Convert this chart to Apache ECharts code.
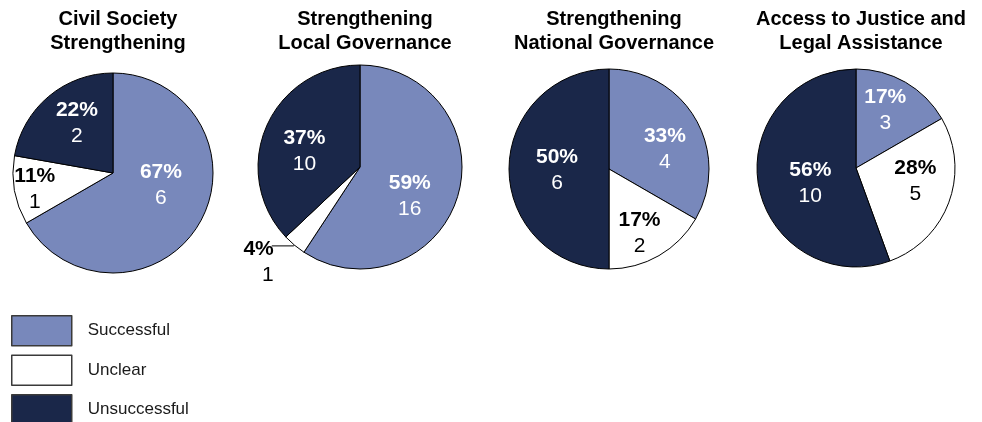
<!DOCTYPE html>
<html>
<head>
<meta charset="utf-8">
<script src="https://cdn.jsdelivr.net/npm/echarts@6/dist/echarts.min.js"></script>
<style>html,body{margin:0;padding:0;background:#fff}#c{width:982px;height:422px}</style>
</head>
<body>
<div id="c"></div>
<script>
const categories = ['Successful', 'Unclear', 'Unsuccessful'];
const chartTitles = ['Civil Society\nStrengthening', 'Strengthening\nLocal Governance', 'Strengthening\nNational Governance', 'Access to Justice and\nLegal Assistance'];
const civilSociety = [6, 1, 2];
const localGovernance = [16, 1, 10];
const nationalGovernance = [4, 2, 6];
const accessToJustice = [3, 5, 10];

const seriesValues = [civilSociety, localGovernance, nationalGovernance, accessToJustice];
const colors = ['#7888BB', '#FFFFFF', '#1A2749'];
const textColors = ['#FFFFFF', '#000000', '#FFFFFF'];
const centers = [[113, 173], [360, 167], [609, 169], [856, 168]];
const radii = [100, 102, 100, 99];
// fine-tune label offsets [series][item] = [dx, dy]
const labelShift = [
  [[2, -14], [-26, 7], [-2, -9]],
  [[-2, 14], [4, 16], [-6, 6]],
  [[10, 7], [4, 18], [1, 1]],
  [[3, -12], [10, -5], [6, 6]]
];

const chart = echarts.init(document.getElementById('c'), null, {renderer: 'canvas'});

const series = seriesValues.map((vals, si) => {
  const total = vals.reduce((a, b) => a + b, 0);
  return {
    type: 'pie',
    center: centers[si],
    radius: radii[si],
    startAngle: 90,
    clockwise: true,
    silent: true,
    animation: false,
    emphasis: {disabled: true},
    itemStyle: {borderColor: '#000', borderWidth: 1},
    label: {
      show: true,
      position: 'inside',
      formatter: p => '{p|' + Math.round(p.value / total * 100) + '%}\n{n|' + p.value + '}',
      rich: {
        p: {fontFamily: 'Liberation Sans, Arial', fontSize: 21, fontWeight: 'bold', lineHeight: 26},
        n: {fontFamily: 'Liberation Sans, Arial', fontSize: 21, lineHeight: 26}
      }
    },
    labelLayout: function (params) {
      const s = labelShift[params.seriesIndex] && labelShift[params.seriesIndex][params.dataIndex];
      if (!s) return {};
      return {dx: s[0], dy: s[1]};
    },
    data: vals.map((v, i) => {
      const d = {
        name: categories[i],
        value: v,
        itemStyle: {color: colors[i]},
        label: {color: textColors[i], rich: {p: {color: textColors[i]}, n: {color: textColors[i]}}}
      };
      if (si === 1 && i === 1) {
        d.label = {
          position: 'outside',
          color: '#000',
          alignTo: 'none',
          distanceToLabelLine: 2,
          rich: {p: {color: '#000'}, n: {color: '#000'}}
        };
        d.labelLine = {show: true, length: 1, length2: 22, lineStyle: {color: '#000', width: 1}};
      }
      return d;
    })
  };
});

const titles = chartTitles.map((t, i) => ({
  text: t,
  left: centers[i][0],
  top: 2,
  textAlign: 'center',
  textStyle: {fontFamily: 'Liberation Sans, Arial', fontSize: 20, fontWeight: 'bold', color: '#000', lineHeight: 24}
}));

chart.setOption({
  animation: false,
  title: titles,
  legend: {
    orient: 'vertical',
    left: 11,
    top: 315,
    height: 140,
    padding: 0,
    itemWidth: 60,
    itemHeight: 30,
    itemGap: 8,
    icon: 'rect',
    selectedMode: false,
    data: categories,
    itemStyle: {borderColor: '#3a3a3a', borderWidth: 1.5},
    textStyle: {fontFamily: 'Liberation Sans, Arial', fontSize: 17, color: '#1a1a1a', padding: [0, 0, 0, 11]}
  },
  series: series
});
</script>
</body>
</html>
